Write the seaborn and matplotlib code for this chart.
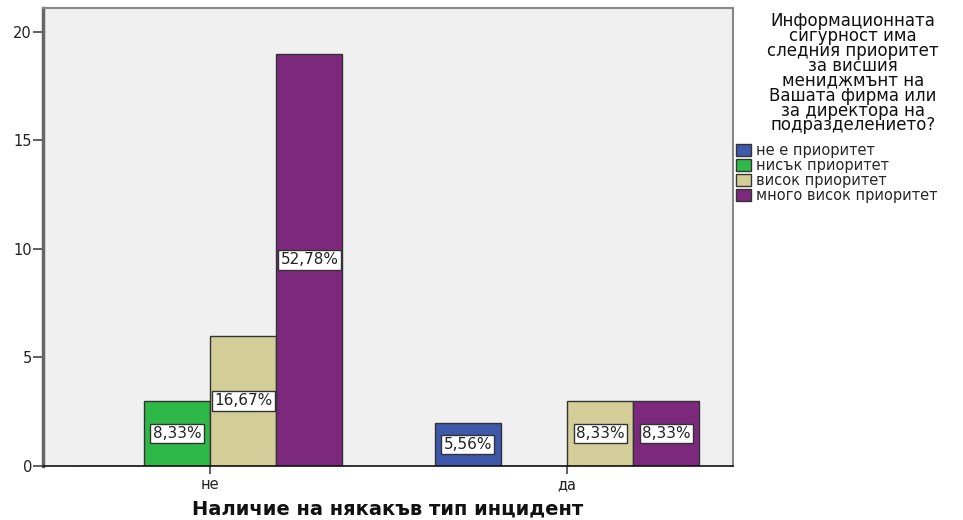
import matplotlib
matplotlib.use("Agg")
import matplotlib.pyplot as plt
import seaborn as sns
import pandas as pd
from matplotlib.patches import Patch

# Counts per incident answer and management-priority answer
incident = ["не", "да"]
priority = ["не е приоритет", "нисък приоритет", "висок приоритет", "много висок приоритет"]
counts_ne = [0, 3, 6, 19]
counts_da = [2, 0, 3, 3]
colors = ["#3E58AC", "#2EB848", "#D3CE97", "#7C287D"]

legend_title = ("Информационната\nсигурност има\nследния приоритет\nза висшия\n"
                "мениджмънт на\nВашата фирма или\nза директора на\nподразделението?")
x_title = "Наличие на някакъв тип инцидент"

rows = []
for inc, vals in zip(incident, [counts_ne, counts_da]):
    for pr, v in zip(priority, vals):
        rows.append({"incident": inc, "priority": pr, "count": v})
df = pd.DataFrame(rows)
total = df["count"].sum()

sns.set_theme(style="white")
plt.rcParams["font.family"] = ["DejaVu Sans"]

fig = plt.figure(figsize=(9.63, 5.2), dpi=100)
ax = fig.add_axes([43 / 963, 54 / 520, 690 / 963, 458 / 520])
ax.set_facecolor("#F0F0F0")

sns.barplot(data=df, x="incident", y="count", hue="priority",
            order=incident, hue_order=priority, palette=colors,
            width=0.742, gap=0, edgecolor="#333333", linewidth=1.0,
            saturation=1, legend=False, ax=ax)

# Percentage of all respondents, printed in the middle of each non-empty bar
for cont in ax.containers:
    labels = []
    for bar in cont:
        h = bar.get_height()
        labels.append(f"{h / total * 100:.2f}%".replace(".", ",") if h > 0 else "")
    ax.bar_label(cont, labels=labels, label_type="center", fontsize=11,
                 color="#222222",
                 bbox=dict(boxstyle="square,pad=0.15", facecolor="white",
                           edgecolor="#333333", linewidth=1.0))

ax.set_xlim(-0.468, 1.465)
ax.set_ylim(0, 21.1)
ax.set_yticks([0, 5, 10, 15, 20])
ax.set_xlabel(x_title, fontsize=14, fontweight="bold", labelpad=5, color="#111111")
ax.set_ylabel("")
ax.tick_params(axis="y", direction="out", length=7, width=1.2, color="#444444",
               labelsize=10.5, pad=1, left=True, labelcolor="#222222")
ax.tick_params(axis="x", direction="out", length=6, width=1.2, color="#444444",
               labelsize=10.5, pad=2, bottom=True, labelcolor="#222222")

for side in ["top", "right"]:
    ax.spines[side].set_color("#888888")
    ax.spines[side].set_linewidth(1.5)
ax.spines["left"].set_color("#666666")
ax.spines["left"].set_linewidth(2.5)
ax.spines["bottom"].set_color("#111111")
ax.spines["bottom"].set_linewidth(1.2)

fig.text(853 / 963, 1 - 12 / 520, legend_title, ha="center", va="top",
         multialignment="center", fontsize=12, linespacing=0.78, color="#111111")

handles = [Patch(facecolor=c, edgecolor="#333333", linewidth=1.0) for c in colors]
fig.legend(handles, priority, loc="upper left", bbox_to_anchor=(736 / 963, 1 - 143 / 520),
           frameon=False, fontsize=10.5, handlelength=1.05, handleheight=0.8,
           handletextpad=0.3, labelspacing=0.0, borderpad=0, borderaxespad=0)

fig.savefig("out.png", dpi=100)
